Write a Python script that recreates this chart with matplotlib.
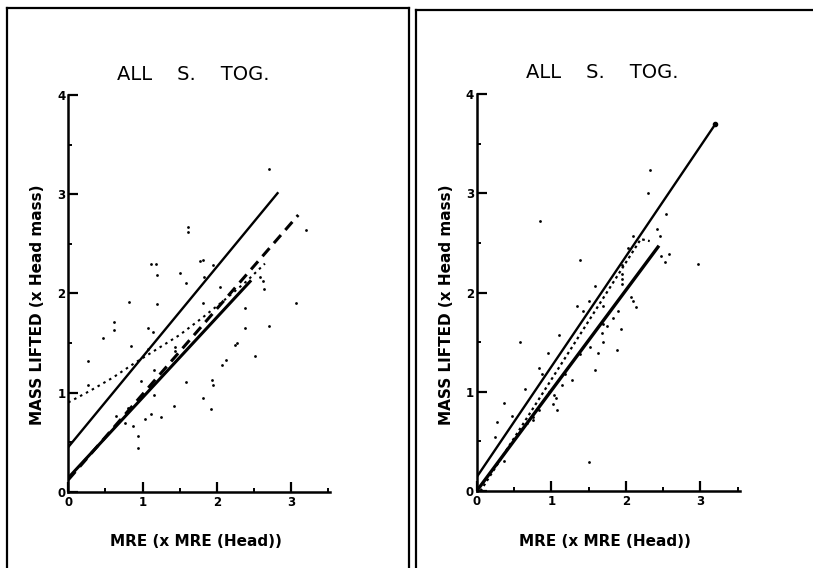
import matplotlib
matplotlib.use("Agg")
import matplotlib.pyplot as plt
from matplotlib.lines import Line2D

# ---------------- data ----------------
# left panel scatter
xl = [2.70, 1.61, 1.61, 3.20, 1.12, 1.18, 1.19, 1.78, 1.82, 1.95, 1.51, 1.58, 1.83, 2.05,
      1.20, 0.82, 1.82, 2.38, 3.07, 2.58, 2.63, 2.64, 2.70, 2.38, 0.61, 0.61, 1.08, 1.14,
      0.47, 0.84, 1.08, 1.44, 1.44, 2.24, 2.28, 2.51, 2.12, 2.07, 0.26, 1.15, 0.27, 0.98,
      1.59, 1.93, 1.95, 1.15, 1.82, 1.43, 1.92, 0.81, 0.64, 1.11, 1.03, 1.25, 0.76, 0.87,
      0.94, 0.94]
yl = [3.25, 2.67, 2.62, 2.64, 2.30, 2.30, 2.18, 2.33, 2.34, 2.29, 2.21, 2.10, 2.16, 2.06,
      1.89, 1.91, 1.90, 1.85, 1.90, 2.16, 2.12, 2.04, 1.67, 1.65, 1.71, 1.63, 1.65, 1.61,
      1.55, 1.47, 1.44, 1.46, 1.42, 1.48, 1.50, 1.37, 1.33, 1.28, 1.32, 1.23, 1.08, 1.12,
      1.11, 1.13, 1.08, 0.98, 0.94, 0.86, 0.83, 0.84, 0.76, 0.78, 0.73, 0.75, 0.69, 0.66,
      0.56, 0.44]

# left panel fitted lines
l_solid_top_x = [0, 2.82]
l_solid_top_y = [0.45, 3.01]
l_solid_low_x = [0, 2.45]
l_solid_low_y = [0.14, 2.12]
l_dash_x = [0, 3.10]
l_dash_y = [0.12, 2.79]
l_curve_x = [0, 0.3, 0.6, 0.9, 1.2, 1.5, 1.8, 2.1, 2.4, 2.65]
l_curve_y = [0.90, 1.02, 1.15, 1.30, 1.44, 1.58, 1.75, 1.93, 2.12, 2.30]

# right panel scatter
xr = [2.33, 2.29, 0.85, 2.54, 2.42, 2.46, 2.09, 2.03, 2.47, 2.58, 2.52, 2.97, 1.38, 1.58,
      2.07, 2.09, 2.14, 1.95, 1.95, 1.95, 1.95, 1.35, 1.43, 1.51, 1.69, 1.89, 1.83, 1.94,
      1.69, 1.75, 1.68, 1.69, 1.52, 1.63, 1.88, 1.39, 1.10, 0.58, 0.95, 1.58, 1.28, 0.83,
      0.88, 1.18, 1.14, 0.65, 0.97, 1.04, 1.06, 1.02, 1.08, 0.84, 0.37, 0.47, 0.76, 0.76,
      0.68, 0.27, 0.24, 1.50, 0.37]
yr = [3.24, 3.00, 2.72, 2.79, 2.64, 2.57, 2.57, 2.45, 2.37, 2.39, 2.31, 2.29, 2.33, 2.07,
      1.96, 1.92, 1.86, 2.28, 2.19, 2.14, 2.09, 1.87, 1.82, 1.92, 1.87, 1.82, 1.74, 1.63,
      1.68, 1.66, 1.59, 1.50, 1.45, 1.39, 1.42, 1.38, 1.57, 1.50, 1.39, 1.22, 1.12, 1.24,
      1.18, 1.18, 1.07, 1.03, 1.00, 0.97, 0.94, 0.88, 0.82, 0.82, 0.89, 0.76, 0.75, 0.72,
      0.69, 0.70, 0.54, 0.29, 0.30]

# right panel fitted lines
r_solid_top_x = [0, 3.20]
r_solid_top_y = [0.14, 3.70]
r_solid_low_x = [0, 2.43]
r_solid_low_y = [0.0, 2.46]
r_dot_x = [0.05, 2.20, 2.32]
r_dot_y = [0.0, 2.54, 2.52]

title = "ALL    S.    TOG."
xlabel = "MRE (x MRE (Head))"
ylabel = "MASS LIFTED (x Head mass)"

W, H = 813, 568
fig = plt.figure(figsize=(W / 100, H / 100), dpi=100)


def px(x, y):
    return x / W, 1 - y / H


# ------------- frames round the two panels -------------
for (x0, y0, x1, y1) in [(7, 8, 409, 575), (416, 10, 820, 575)]:
    for xs, ys in [((x0, x1), (y0, y0)), ((x0, x0), (y0, y1)), ((x1, x1), (y0, y1))]:
        fig.add_artist(Line2D([xs[0] / W, xs[1] / W], [1 - ys[0] / H, 1 - ys[1] / H],
                              color="black", lw=1.6, transform=fig.transFigure))


def setup(ax):
    ax.set_xlim(0, 3.53)
    ax.set_ylim(0, 4)
    for s in ["top", "right"]:
        ax.spines[s].set_visible(False)
    ax.spines["left"].set_bounds(0, 4)
    for s in ["left", "bottom"]:
        ax.spines[s].set_linewidth(1.8)
    ax.set_xticks([0, 1, 2, 3])
    ax.set_xticks([0.5, 1.5, 2.5, 3.5], minor=True)
    ax.set_yticks([0, 1, 2, 3, 4])
    ax.set_yticks([0.5, 1.5, 2.5, 3.5], minor=True)
    ax.tick_params(which="major", direction="in", length=7, width=1.6, pad=3)
    ax.tick_params(which="minor", direction="in", length=3, width=1.4)
    ax.tick_params(axis="y", pad=2)
    for lab in ax.get_xticklabels() + ax.get_yticklabels():
        lab.set_fontweight("bold")
        lab.set_fontsize(8.5)
    ax.patch.set_visible(False)


# ---------------- left panel ----------------
ax1 = fig.add_axes([68.3 / W, 1 - 491.7 / H, 3.53 * 74.2 / W, 396.7 / H])
setup(ax1)
ax1.scatter(xl, yl, s=4, color="black", lw=0)
ax1.plot(l_solid_top_x, l_solid_top_y, color="black", lw=1.7)
ax1.plot(l_solid_low_x, l_solid_low_y, color="black", lw=2.2)
ax1.plot(l_dash_x, l_dash_y, color="black", lw=2.2, dashes=(3.5, 2.2))
ax1.plot(l_curve_x, l_curve_y, color="black", lw=1.5, dashes=(1.2, 2.0))

# ---------------- right panel ----------------
ax2 = fig.add_axes([476.7 / W, 1 - 491 / H, 3.52 * 74.8 / W, 396.7 / H])
setup(ax2)
ax2.scatter(xr, yr, s=4, color="black", lw=0)
ax2.plot(r_solid_top_x, r_solid_top_y, color="black", lw=1.7)
ax2.plot(r_solid_top_x[-1:], r_solid_top_y[-1:], "o", color="black", ms=3)
ax2.plot(r_solid_low_x, r_solid_low_y, color="black", lw=2.4)
ax2.plot(r_dot_x, r_dot_y, color="black", lw=1.6, dashes=(1.2, 1.5))

# ---------------- texts ----------------
for cx, ty, yl_x in [(193, 75, 37), (602, 72, 446)]:
    fig.text(*px(cx, ty), title, ha="center", va="center", fontsize=14,
             family="DejaVu Sans")
    fig.text(*px(cx + 3, 541), xlabel, ha="center", va="center", fontsize=11,
             fontweight="bold", family="DejaVu Sans")
    fig.text(*px(yl_x, 305), ylabel, ha="center", va="center", fontsize=11,
             fontweight="bold", rotation=90, family="DejaVu Sans")

fig.savefig("out.png", dpi=100)
